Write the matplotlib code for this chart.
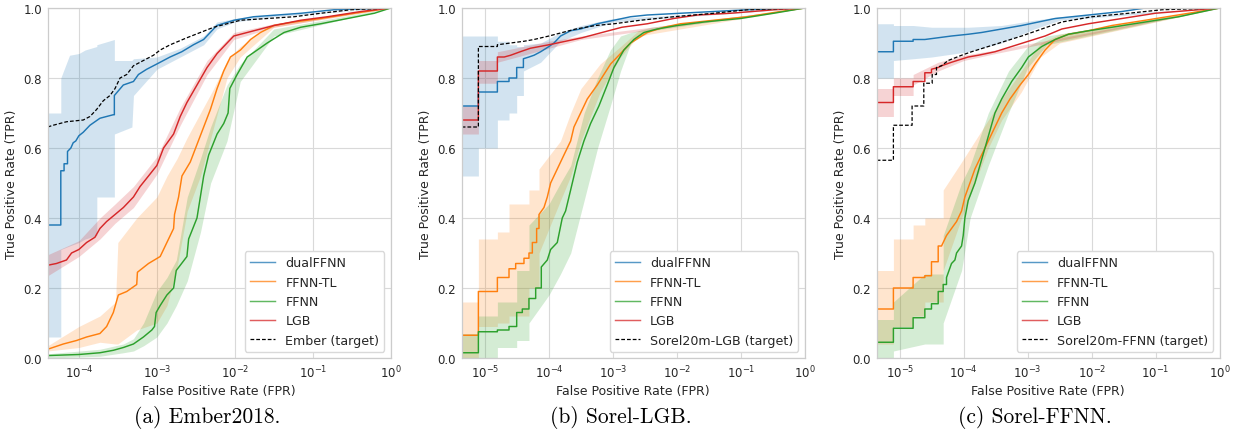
import numpy as np
import matplotlib
matplotlib.use("Agg")
import matplotlib.pyplot as plt

# ---------------- data: (log10 FPR, TPR) and bands (log10 FPR, low, high) ----------------
SERIES_LABELS = ["dualFFNN", "FFNN-TL", "FFNN", "LGB"]
TARGET_LABELS = ["Ember (target)", "Sorel20m-LGB (target)", "Sorel20m-FFNN (target)"]
CAPTIONS = ["(a) Ember2018.", "(b) Sorel-LGB.", "(c) Sorel-FFNN."]
XMIN_LOG = [-4.40, -5.365, -5.36]

# ---- Panel A: Ember2018 ----
A_DUAL = [(-4.40,0.38),(-4.232,0.38),(-4.232,0.535),(-4.19,0.535),(-4.19,0.555),(-4.146,0.555),(-4.146,0.59),
          (-4.103,0.60),(-4.073,0.615),(-4.04,0.62),(-4.0,0.635),(-3.944,0.645),(-3.858,0.665),(-3.73,0.685),
          (-3.56,0.695),(-3.545,0.695),(-3.545,0.75),(-3.43,0.78),(-3.30,0.79),(-3.236,0.81),(-3.13,0.825),
          (-3.0,0.84),(-2.83,0.86),(-2.68,0.875),(-2.53,0.895),(-2.40,0.91),(-2.23,0.95),(-2.01,0.965),
          (-1.76,0.975),(-1.15,0.985),(-0.73,0.995),(0.0,1.0)]
A_DUAL_BAND = [(-4.40,0.06,0.70),(-4.232,0.06,0.70),(-4.232,0.31,0.80),(-4.12,0.32,0.865),(-4.0,0.33,0.87),
               (-3.92,0.34,0.88),(-3.77,0.35,0.89),(-3.77,0.46,0.895),(-3.545,0.46,0.91),(-3.545,0.64,0.85),
               (-3.32,0.66,0.85),(-3.30,0.75,0.855),(-3.0,0.825,0.86),(-2.7,0.86,0.885),(-2.4,0.895,0.92),
               (-2.23,0.94,0.96),(-2.0,0.96,0.97),(-1.5,0.975,0.98),(0.0,1.0,1.0)]
A_TL = [(-4.40,0.025),(-4.20,0.04),(-4.03,0.05),(-3.901,0.06),(-3.73,0.07),(-3.644,0.09),(-3.558,0.13),
        (-3.494,0.18),(-3.386,0.19),(-3.258,0.21),(-3.249,0.245),(-3.107,0.27),(-2.957,0.29),(-2.871,0.33),
        (-2.785,0.37),(-2.773,0.41),(-2.721,0.46),(-2.678,0.52),(-2.571,0.56),(-2.485,0.61),(-2.399,0.66),
        (-2.313,0.71),(-2.227,0.77),(-2.142,0.82),(-2.056,0.86),(-1.927,0.88),(-1.798,0.91),(-1.67,0.93),
        (-1.498,0.95),(-1.24,0.96),(-0.897,0.97),(-0.468,0.985),(0.0,1.0)]
A_TL_BAND = [(-4.40,0.02,0.035),(-4.0,0.03,0.09),(-3.73,0.045,0.12),(-3.53,0.04,0.16),(-3.50,0.04,0.33),
             (-3.258,0.08,0.40),(-3.0,0.10,0.46),(-2.87,0.15,0.52),(-2.74,0.26,0.57),(-2.61,0.42,0.63),
             (-2.44,0.52,0.70),(-2.27,0.66,0.77),(-2.10,0.80,0.85),(-1.93,0.86,0.89),(-1.5,0.945,0.955),(0.0,1.0,1.0)]
A_FFNN = [(-4.40,0.007),(-4.0,0.01),(-3.73,0.015),(-3.558,0.022),(-3.429,0.03),(-3.30,0.04),(-3.172,0.06),
          (-3.064,0.08),(-3.03,0.09),(-3.009,0.13),(-2.957,0.15),(-2.871,0.18),(-2.785,0.20),(-2.751,0.25),
          (-2.614,0.29),(-2.592,0.34),(-2.485,0.40),(-2.442,0.46),(-2.399,0.52),(-2.335,0.58),(-2.227,0.64),
          (-2.142,0.67),(-2.086,0.70),(-2.064,0.77),(-1.97,0.81),(-1.841,0.86),(-1.712,0.88),(-1.584,0.90),
          (-1.369,0.93),(-1.155,0.945),(-0.897,0.955),(-0.554,0.97),(-0.21,0.985),(0.0,1.0)]
A_FFNN_BAND = [(-4.40,0.0,0.012),(-3.73,0.005,0.025),(-3.43,0.015,0.04),(-3.30,0.02,0.055),(-3.17,0.035,0.10),
               (-3.0,0.06,0.19),(-2.87,0.10,0.23),(-2.75,0.15,0.28),(-2.61,0.22,0.46),(-2.44,0.36,0.57),
               (-2.31,0.50,0.66),(-2.10,0.62,0.78),(-1.93,0.79,0.84),(-1.5,0.92,0.94),(0.0,1.0,1.0)]
A_LGB = [(-4.40,0.265),(-4.288,0.27),(-4.159,0.28),(-4.094,0.30),(-4.0,0.31),(-3.901,0.33),(-3.794,0.345),
         (-3.73,0.37),(-3.644,0.39),(-3.536,0.41),(-3.429,0.43),(-3.30,0.46),(-3.215,0.49),(-3.107,0.52),
         (-3.0,0.55),(-2.914,0.60),(-2.785,0.64),(-2.70,0.69),(-2.614,0.73),(-2.485,0.78),(-2.356,0.83),
         (-2.227,0.87),(-2.099,0.90),(-2.013,0.92),(-1.755,0.935),(-1.498,0.95),(-1.155,0.965),(-0.811,0.975),
         (-0.382,0.99),(0.0,1.0)]
A_LGB_BAND = [(-4.40,0.235,0.295),(-4.0,0.29,0.335),(-3.73,0.34,0.40),(-3.536,0.385,0.44),(-3.30,0.43,0.49),
              (-3.0,0.525,0.575),(-2.70,0.665,0.715),(-2.356,0.81,0.85),(-2.013,0.91,0.93),(-1.5,0.945,0.955),(0.0,1.0,1.0)]
A_TGT = [(-4.40,0.66),(-4.33,0.665),(-4.159,0.675),(-3.944,0.68),(-3.858,0.69),(-3.773,0.71),(-3.687,0.735),
         (-3.601,0.75),(-3.536,0.77),(-3.472,0.80),(-3.386,0.81),(-3.30,0.835),(-3.172,0.85),(-3.043,0.865),
         (-2.957,0.88),(-2.828,0.895),(-2.614,0.915),(-2.442,0.93),(-2.27,0.945),(-2.099,0.955),(-1.927,0.965),
         (-1.584,0.97),(-1.24,0.975),(-0.897,0.985),(-0.511,0.995),(0.0,1.0)]

# ---- Panel B: Sorel-LGB ----
B_DUAL = [(-5.365,0.72),(-5.104,0.72),(-5.104,0.76),(-4.807,0.76),(-4.807,0.79),(-4.625,0.79),(-4.625,0.80),
          (-4.505,0.80),(-4.505,0.83),(-4.40,0.83),(-4.40,0.855),(-4.313,0.86),(-4.234,0.865),(-4.13,0.875),
          (-4.0,0.89),(-3.922,0.90),(-3.818,0.92),(-3.661,0.935),(-3.505,0.94),(-3.245,0.955),(-2.984,0.965),
          (-2.724,0.975),(-2.464,0.98),(-1.943,0.985),(-1.422,0.99),(-0.901,0.995),(0.0,1.0)]
B_DUAL_BAND = [(-5.365,0.52,0.92),(-5.104,0.52,0.92),(-5.104,0.60,0.92),(-4.807,0.60,0.92),(-4.807,0.68,0.905),
               (-4.625,0.68,0.905),(-4.625,0.70,0.895),(-4.505,0.70,0.895),(-4.505,0.75,0.89),(-4.40,0.75,0.89),
               (-4.40,0.82,0.895),(-4.13,0.845,0.90),(-3.82,0.905,0.93),(-3.5,0.93,0.95),(-3.0,0.96,0.97),(0.0,1.0,1.0)]
B_TL = [(-5.365,0.065),(-5.104,0.065),(-5.104,0.19),(-4.807,0.19),(-4.807,0.23),(-4.625,0.23),(-4.625,0.255),
        (-4.521,0.255),(-4.521,0.27),(-4.391,0.27),(-4.391,0.285),(-4.313,0.285),(-4.313,0.30),(-4.26,0.30),
        (-4.26,0.33),(-4.193,0.33),(-4.193,0.37),(-4.156,0.37),(-4.156,0.41),(-4.078,0.43),(-4.026,0.46),
        (-3.974,0.50),(-3.87,0.54),(-3.766,0.58),(-3.661,0.62),(-3.609,0.66),(-3.505,0.70),(-3.401,0.74),
        (-3.245,0.78),(-3.141,0.81),(-3.036,0.84),(-2.88,0.87),(-2.724,0.90),(-2.464,0.93),(-2.203,0.945),
        (-1.943,0.955),(-1.422,0.965),(-0.901,0.975),(-0.38,0.99),(0.0,1.0)]
B_TL_BAND = [(-5.365,0.0,0.16),(-5.104,0.0,0.16),(-5.104,0.09,0.34),(-4.807,0.09,0.34),(-4.807,0.10,0.36),
             (-4.625,0.10,0.36),(-4.625,0.12,0.44),(-4.313,0.12,0.44),(-4.313,0.20,0.48),(-4.156,0.20,0.48),
             (-4.156,0.30,0.54),(-3.82,0.45,0.62),(-3.66,0.52,0.70),(-3.5,0.62,0.77),(-3.2,0.76,0.84),
             (-2.88,0.86,0.89),(-2.6,0.92,0.935),(0.0,1.0,1.0)]
B_FFNN = [(-5.365,0.015),(-5.104,0.015),(-5.104,0.075),(-4.807,0.075),(-4.807,0.08),(-4.625,0.08),(-4.625,0.09),
          (-4.505,0.09),(-4.505,0.13),(-4.417,0.13),(-4.417,0.14),(-4.313,0.14),(-4.313,0.17),(-4.208,0.17),
          (-4.208,0.20),(-4.12,0.20),(-4.12,0.26),(-4.026,0.28),(-3.974,0.31),(-3.87,0.33),(-3.792,0.40),
          (-3.74,0.42),(-3.661,0.48),(-3.557,0.56),(-3.453,0.62),(-3.349,0.67),(-3.219,0.72),(-3.089,0.78),
          (-2.984,0.83),(-2.828,0.88),(-2.672,0.91),(-2.516,0.93),(-2.307,0.94),(-1.995,0.95),(-1.578,0.96),
          (-1.005,0.97),(-0.484,0.985),(0.0,1.0)]
B_FFNN_BAND = [(-5.365,0.0,0.07),(-5.104,0.0,0.07),(-5.104,0.0,0.12),(-4.807,0.0,0.12),(-4.807,0.03,0.16),
               (-4.505,0.03,0.16),(-4.505,0.05,0.25),(-4.313,0.05,0.25),(-4.313,0.10,0.38),(-4.0,0.18,0.44),
               (-3.82,0.24,0.50),(-3.66,0.30,0.55),(-3.45,0.45,0.70),(-3.24,0.60,0.80),(-3.04,0.72,0.88),
               (-2.88,0.82,0.92),(-2.72,0.90,0.93),(-2.4,0.935,0.945),(0.0,1.0,1.0)]
B_LGB = [(-5.365,0.68),(-5.104,0.68),(-5.104,0.82),(-4.807,0.82),(-4.807,0.86),(-4.70,0.86),(-4.60,0.865),
         (-4.45,0.875),(-4.29,0.885),(-4.0,0.895),(-3.74,0.905),(-3.48,0.915),(-3.17,0.93),(-2.86,0.945),
         (-2.46,0.955),(-2.05,0.97),(-1.68,0.98),(-1.16,0.985),(-0.48,0.995),(0.0,1.0)]
B_LGB_BAND = [(-5.365,0.64,0.72),(-5.104,0.64,0.72),(-5.104,0.785,0.85),(-4.807,0.785,0.85),(-4.807,0.845,0.875),
              (-4.40,0.865,0.89),(-4.0,0.885,0.905),(-3.5,0.91,0.92),(0.0,1.0,1.0)]
B_TGT = [(-5.365,0.66),(-5.104,0.66),(-5.104,0.89),(-4.807,0.89),(-4.807,0.895),(-4.60,0.90),(-4.39,0.905),
         (-4.234,0.91),(-4.0,0.92),(-3.79,0.93),(-3.58,0.94),(-3.27,0.95),(-2.98,0.955),(-2.57,0.965),
         (-2.05,0.975),(-1.42,0.985),(-0.90,0.995),(0.0,1.0)]

# ---- Panel C: Sorel-FFNN ----
C_DUAL = [(-5.36,0.875),(-5.099,0.875),(-5.099,0.905),(-4.791,0.905),(-4.791,0.91),(-4.608,0.91),(-4.399,0.915),
          (-4.191,0.92),(-3.93,0.925),(-3.721,0.93),(-3.407,0.94),(-3.094,0.95),(-2.833,0.96),(-2.572,0.97),
          (-2.05,0.98),(-1.527,0.99),(-1.162,1.0),(0.0,1.0)]
C_DUAL_BAND = [(-5.36,0.80,0.955),(-5.099,0.80,0.955),(-5.099,0.85,0.95),(-4.791,0.855,0.95),(-4.5,0.86,0.945),
               (-3.93,0.875,0.945),(-3.41,0.90,0.95),(-2.9,0.94,0.965),(-2.5,0.965,0.975),(0.0,1.0,1.0)]
C_TL = [(-5.36,0.14),(-5.099,0.14),(-5.099,0.20),(-4.791,0.20),(-4.791,0.23),(-4.608,0.23),(-4.608,0.235),
        (-4.504,0.235),(-4.504,0.275),(-4.399,0.275),(-4.399,0.32),(-4.347,0.32),(-4.321,0.33),(-4.269,0.35),
        (-4.191,0.37),(-4.112,0.39),(-4.034,0.42),(-3.982,0.46),(-3.903,0.50),(-3.825,0.54),(-3.721,0.58),
        (-3.616,0.62),(-3.512,0.66),(-3.407,0.70),(-3.277,0.74),(-3.12,0.78),(-2.99,0.81),(-2.885,0.84),
        (-2.728,0.88),(-2.572,0.91),(-2.363,0.925),(-2.05,0.935),(-1.684,0.95),(-1.162,0.965),(-0.483,0.985),(0.0,1.0)]
C_TL_BAND = [(-5.36,0.04,0.25),(-5.099,0.04,0.25),(-5.099,0.09,0.34),(-4.791,0.09,0.34),(-4.791,0.12,0.38),
             (-4.608,0.12,0.38),(-4.608,0.16,0.40),(-4.321,0.16,0.40),(-4.321,0.25,0.48),(-4.034,0.40,0.56),
             (-3.825,0.50,0.62),(-3.616,0.60,0.68),(-3.407,0.68,0.74),(-3.1,0.76,0.82),(-2.8,0.86,0.90),
             (-2.5,0.90,0.925),(0.0,1.0,1.0)]
C_FFNN = [(-5.36,0.045),(-5.099,0.045),(-5.099,0.085),(-4.791,0.085),(-4.791,0.115),(-4.608,0.115),(-4.608,0.14),
          (-4.504,0.14),(-4.504,0.155),(-4.399,0.155),(-4.399,0.19),(-4.321,0.19),(-4.321,0.21),(-4.269,0.21),
          (-4.269,0.23),(-4.191,0.27),(-4.138,0.28),(-4.112,0.30),(-4.034,0.32),(-4.008,0.35),(-3.982,0.40),
          (-3.93,0.45),(-3.825,0.50),(-3.747,0.55),(-3.668,0.60),(-3.59,0.65),(-3.512,0.70),(-3.407,0.74),
          (-3.251,0.79),(-3.094,0.83),(-2.99,0.86),(-2.781,0.89),(-2.572,0.91),(-2.363,0.925),(-2.05,0.935),
          (-1.684,0.945),(-1.162,0.96),(-0.64,0.975),(0.0,1.0)]
C_FFNN_BAND = [(-5.36,0.0,0.11),(-5.099,0.0,0.11),(-5.099,0.02,0.16),(-4.608,0.04,0.24),(-4.321,0.04,0.24),
               (-4.321,0.10,0.35),(-4.034,0.25,0.50),(-3.9,0.40,0.55),(-3.616,0.55,0.70),(-3.3,0.70,0.82),
               (-3.0,0.83,0.89),(-2.7,0.895,0.92),(0.0,1.0,1.0)]
C_LGB = [(-5.36,0.73),(-5.099,0.73),(-5.099,0.775),(-4.791,0.775),(-4.791,0.79),(-4.608,0.79),(-4.608,0.815),
         (-4.504,0.815),(-4.504,0.825),(-4.399,0.83),(-4.347,0.835),(-4.191,0.845),(-3.93,0.86),(-3.773,0.865),
         (-3.512,0.875),(-3.251,0.89),(-2.99,0.905),(-2.728,0.92),(-2.467,0.94),(-2.05,0.955),(-1.527,0.97),
         (-1.005,0.985),(0.0,1.0)]
C_LGB_BAND = [(-5.36,0.69,0.77),(-5.099,0.69,0.77),(-5.099,0.75,0.80),(-4.791,0.75,0.80),(-4.791,0.78,0.81),
              (-4.4,0.82,0.845),(-4.0,0.85,0.865),(-3.5,0.87,0.88),(0.0,1.0,1.0)]
C_TGT = [(-5.36,0.565),(-5.099,0.565),(-5.099,0.665),(-4.807,0.665),(-4.807,0.72),(-4.624,0.72),(-4.624,0.785),
         (-4.493,0.785),(-4.493,0.81),(-4.426,0.81),(-4.426,0.83),(-4.347,0.835),(-4.243,0.85),(-4.034,0.865),
         (-3.877,0.875),(-3.616,0.89),(-3.355,0.905),(-3.094,0.92),(-2.781,0.94),(-2.467,0.96),(-1.997,0.975),
         (-1.423,0.985),(-0.901,0.995),(0.0,1.0)]

PANELS = [
    ([A_DUAL, A_TL, A_FFNN, A_LGB], [A_DUAL_BAND, A_TL_BAND, A_FFNN_BAND, A_LGB_BAND], A_TGT),
    ([B_DUAL, B_TL, B_FFNN, B_LGB], [B_DUAL_BAND, B_TL_BAND, B_FFNN_BAND, B_LGB_BAND], B_TGT),
    ([C_DUAL, C_TL, C_FFNN, C_LGB], [C_DUAL_BAND, C_TL_BAND, C_FFNN_BAND, C_LGB_BAND], C_TGT),
]
COLORS = ["#1f77b4", "#ff7f0e", "#2ca02c", "#d62728"]

# ---------------- figure ----------------
W, H = 1242, 435
fig = plt.figure(figsize=(W / 100, H / 100), dpi=100)
lefts_px = [47.7, 461.7, 876.7]
TXT = "0.15"

for i, (curves, bands, tgt) in enumerate(PANELS):
    ax = fig.add_axes([lefts_px[i] / W, 76 / H, 343 / W, 350 / H])
    ax.set_xscale("log")
    for band, c in zip(bands, COLORS):
        b = np.array(band)
        ax.fill_between(10 ** b[:, 0], b[:, 1], b[:, 2], color=c, alpha=0.2, lw=0)
    for cur, c, lab in zip(curves, COLORS, SERIES_LABELS):
        a = np.array(cur)
        ax.plot(10 ** a[:, 0], a[:, 1], color=c, lw=1.05, label=lab)
    t = np.array(tgt)
    ax.plot(10 ** t[:, 0], t[:, 1], color="black", lw=0.9, ls="--", dashes=(3, 1.6), label=TARGET_LABELS[i])

    ax.set_xlim(10 ** XMIN_LOG[i], 1.0)
    ax.set_ylim(0.0, 1.0)
    ax.set_yticks([0.0, 0.2, 0.4, 0.6, 0.8, 1.0])
    ax.minorticks_off()
    ax.grid(True, color="0.85", lw=0.8)
    ax.set_axisbelow(True)
    for s in ax.spines.values():
        s.set_color("0.8")
        s.set_linewidth(0.9)
    ax.tick_params(length=0, labelsize=8.5, pad=4, colors=TXT)
    ax.set_xlabel("False Positive Rate (FPR)", fontsize=9, color=TXT, labelpad=3)
    ax.set_ylabel("True Positive Rate (TPR)", fontsize=9, color=TXT, labelpad=4)
    leg = ax.legend(loc="lower right", fontsize=9.1, frameon=True, fancybox=True,
                    edgecolor="0.85", framealpha=1.0, borderaxespad=0.5)
    for txt in leg.get_texts():
        txt.set_color(TXT)
    for h in leg.get_lines()[:4]:
        h.set_alpha(0.75)
    fig.text((2 * i + 1) / 6, 1 - 418 / H, CAPTIONS[i], ha="center", va="center",
             fontsize=15.5, family="cmr10")

fig.savefig("out.png", dpi=100)
